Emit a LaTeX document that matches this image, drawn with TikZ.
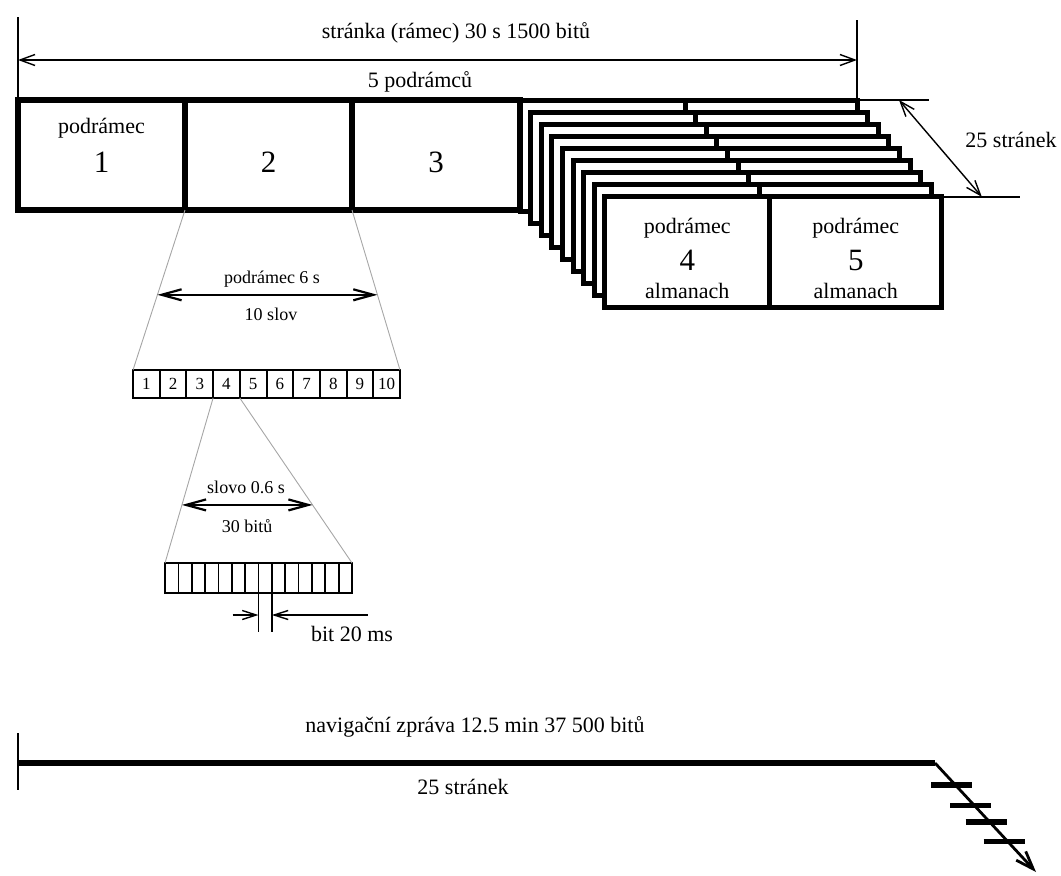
\documentclass[tikz,border=0pt]{standalone}
\usepackage{fontspec}
\setmainfont{Liberation Serif}
\usetikzlibrary{arrows.meta,positioning,calc}
\newcommand\labfont{\fontsize{22}{24}\selectfont}
\newcommand\numfont{\fontsize{31}{33}\selectfont}
\newcommand\smlfont{\fontsize{18}{20}\selectfont}
\newcommand\cellfont{\fontsize{17}{18}\selectfont}
\begin{document}
\begin{tikzpicture}[x=1pt,y=-1pt,
    frame/.style={draw,line width=6pt,minimum height=110pt,inner sep=0pt,outer sep=0pt},
    page/.style={draw,fill=white,line width=5pt,minimum height=111pt,inner sep=0pt,outer sep=0pt,anchor=north west},
    cell/.style={draw,line width=2pt,minimum width=26.7pt,minimum height=28pt,inner sep=0pt,outer sep=0pt,font=\cellfont},
    bitcell/.style={draw,line width=1.7pt,minimum width=13.36pt,minimum height=30pt,inner sep=0pt,outer sep=0pt},
    lab/.style={inner sep=0pt,font=\labfont},
    sml/.style={inner sep=0pt,font=\smlfont},
    num/.style={inner sep=0pt,font=\numfont},
    fan/.style={gray!70,line width=0.9pt},
    dimline/.style={line width=1.4pt,arrows={Straight Barb[length=15pt,width=11pt]-Straight Barb[length=15pt,width=11pt]}},
    dimsub/.style={line width=2.2pt,arrows={Straight Barb[length=20pt,width=11pt]-Straight Barb[length=20pt,width=11pt]}}]
  \useasboundingbox (0,0) rectangle (1061,876);

  % page made of five subframes
  \node[frame,minimum width=167pt] (box1) at (101.5,155) {};
  \node[frame,minimum width=167pt] (box2) at (268.5,155) {};
  \node[frame,minimum width=168pt] (box3) at (436,155) {};
  \node[lab] (sf1) at (101.5,128) {podrámec};
  \node[num] (n1) at (101.5,162) {1};
  \node[num] (n2) at (268.5,162) {2};
  \node[num] (n3) at (436,162) {3};

  % 25 pages of subframes 4 and 5
  \foreach \k in {0,...,8} {
    \node[page,minimum width=165pt] (pa\k) at ({520+10.6*\k},{100+12.1*\k}) {};
    \node[page,minimum width=172pt] (pb\k) at (pa\k.north east) {};
  }
  \node[lab] (sf4) at (687.3,228) {podrámec};
  \node[num] (n4) at (687.3,260) {4};
  \node[lab] (al4) at (687.3,291) {almanach};
  \node[lab] (sf5) at (855.8,228) {podrámec};
  \node[num] (n5) at (855.8,260) {5};
  \node[lab] (al5) at (855.8,291) {almanach};

  % page length
  \draw[line width=1.4pt] (box1.north west) -- ++(0,-83);
  \draw[line width=1.4pt] (pb0.north east) -- ++(0,-80);
  \draw[dimline] ([yshift=40pt]box1.north west) -- ([yshift=40pt]pb0.north east);
  \node[lab] (pgtxt) at (456,33) {stránka (rámec) 30 s 1500 bitů};
  \node[lab] (pgsub) at (420,82) {5 podrámců};

  % number of pages
  \draw[line width=1.4pt] (pb0.north east) -- ++(72,0);
  \draw[line width=1.4pt] (pb8.north east) -- ++(78,0);
  \draw[dimline] ([xshift=42pt]pb0.north east) -- ([xshift=40pt]pb8.north east);
  \node[lab] (pgnum) at (1011,140) {25 stránek};

  % subframe of 10 words
  \foreach \i in {1,...,10}
    \node[cell] (w\i) at ({133+26.7*(\i-0.5)},384) {\i};
  \draw[fan] (box2.south west) -- (w1.north west);
  \draw[fan] (box2.south east) -- (w10.north east);
  \draw[dimsub] ($(box2.south west)!0.53!(w1.north west)$) -- ($(box2.south east)!0.53!(w10.north east)$);
  \node[sml] (sftxt) at (272,279) {podrámec 6 s};
  \node[sml] (sfsub) at (271,314) {10 slov};

  % word of 30 bits
  \foreach \i in {1,...,14}
    \node[bitcell] (b\i) at ({165+13.36*(\i-0.5)},578) {};
  \draw[fan] (w4.south west) -- (b1.north west);
  \draw[fan] (w4.south east) -- (b14.north east);
  \draw[dimsub] ($(w4.south west)!0.648!(b1.north west)$) -- ($(w4.south east)!0.648!(b14.north east)$);
  \node[sml] (wdtxt) at (246,487) {slovo 0.6 s};
  \node[sml] (wdsub) at (247,526) {30 bitů};

  % one bit
  \draw[line width=1.4pt] (b8.south west) -- ++(0,39);
  \draw[line width=1.4pt] (b8.south east) -- ++(0,39);
  \draw[line width=1.4pt,-{Straight Barb[length=14pt,width=9pt]}] ([shift={(-26pt,-22pt)}]b8.south west) -- ([yshift=-22pt]b8.south west);
  \draw[line width=1.4pt,-{Straight Barb[length=14pt,width=9pt]}] ([shift={(96pt,-22pt)}]b8.south east) -- ([yshift=-22pt]b8.south east);
  \node[lab] (bittxt) at (352,634) {bit 20 ms};

  % navigation message
  \coordinate (navL) at (18,763);
  \coordinate (navK) at (935,763);
  \coordinate (navT) at (1036,872);
  \draw[line width=2.2pt] ([yshift=30pt]navL) -- ([yshift=-27pt]navL);
  \draw[line width=5.5pt] (navL) -- (navK);
  \draw[line width=2.8pt,-{Straight Barb[length=18pt,width=13pt]}] (navK) -- (navT);
  \foreach \t in {0.2,0.39,0.54,0.72}
    \draw[line width=5.5pt] ($(navK)!\t!(navT)$) +(-24,0) -- +(17,0);
  \node[lab] (navtxt) at (475,727) {navigační zpráva 12.5 min 37 500 bitů};
  \node[lab] (navsub) at (463,787) {25 stránek};
\end{tikzpicture}
\end{document}
